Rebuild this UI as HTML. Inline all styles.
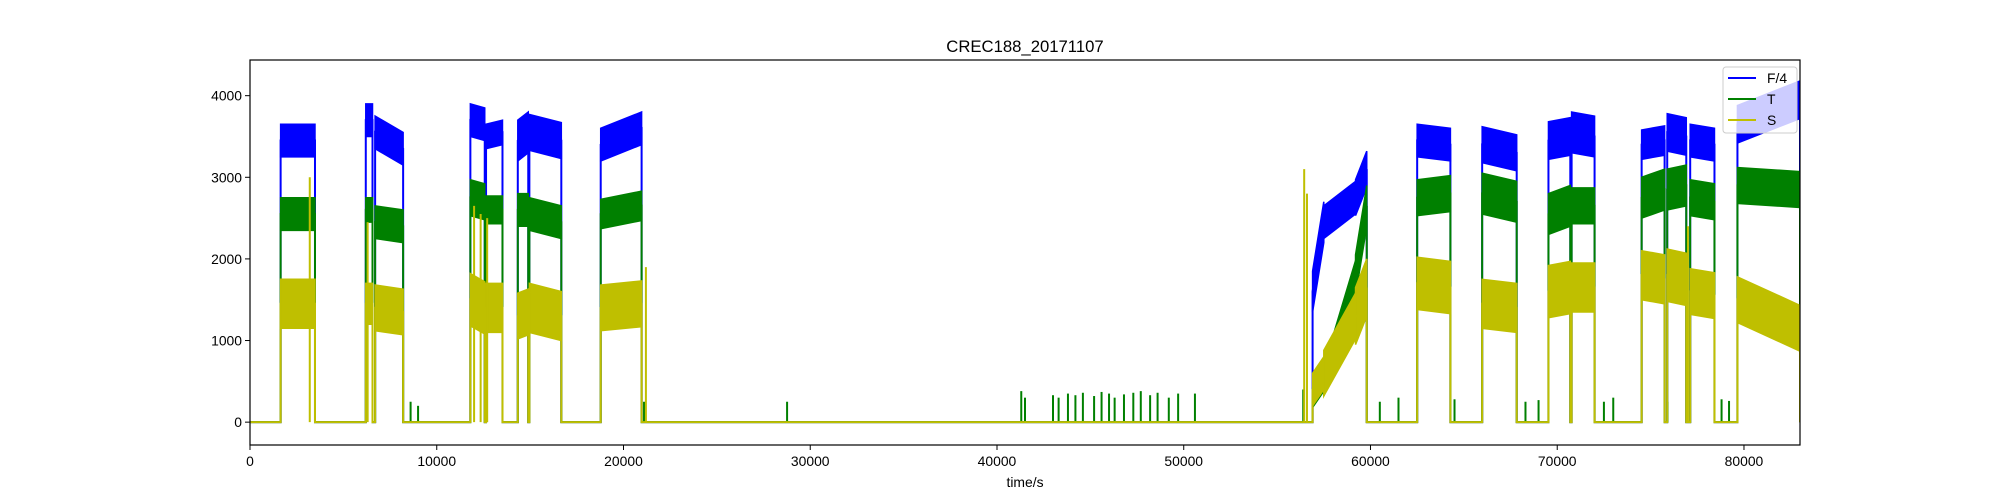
<!DOCTYPE html>
<html><head><meta charset="utf-8"><style>
html,body{margin:0;padding:0;background:#fff;}
svg{display:block;font-family:"Liberation Sans","DejaVu Sans",sans-serif;}
</style></head><body>
<svg id="chart" width="2000" height="500" viewBox="0 0 2000 500" xmlns="http://www.w3.org/2000/svg">
<rect x="0" y="0" width="2000" height="500" fill="#fff"/>
<text x="1025" y="52" text-anchor="middle" font-size="16.7" fill="#000">CREC188_20171107</text>
<g id="plot"></g>
<g id="axes"></g>
<text x="1025" y="487" text-anchor="middle" font-size="13.9" fill="#000">time/s</text>
<g>
<rect x="1723" y="67" width="74" height="66" rx="3" fill="#fff" fill-opacity="0.8" stroke="#ccc" stroke-width="1"/>
<line x1="1728" y1="78" x2="1756" y2="78" stroke="#0000ff" stroke-width="2"/>
<text x="1767" y="83" font-size="13.9">F/4</text>
<line x1="1728" y1="99" x2="1756" y2="99" stroke="#008000" stroke-width="2"/>
<text x="1767" y="104" font-size="13.9">T</text>
<line x1="1728" y1="120" x2="1756" y2="120" stroke="#bfbf00" stroke-width="2"/>
<text x="1767" y="125" font-size="13.9">S</text>
</g>
</svg>
<script>
// block boundaries (seconds)
const blockStart = [1640,6200,6700,11800,12640,14340,14960,18780,56900,57500,59200,62500,65980,69530,70770,74520,75890,77120,79650];
const blockEnd   = [3480,6560,8200,12570,13520,14900,16670,20970,57500,59200,59800,64280,67830,70700,72000,75750,76910,78420,83000];
// F/4 levels: mid at start, mid at end, half band width
const fStartMid = [3450,3700,3550,3700,3500,3450,3550,3400,1600,2450,2750,3450,3400,3450,3550,3400,3550,3450,3650];
const fEndMid   = [3450,3700,3350,3650,3550,3550,3450,3600,2450,2750,3100,3400,3300,3500,3500,3450,3500,3400,3950];
const fHalf     = [200,200,200,200,150,250,220,200,250,200,220,200,220,230,250,180,230,200,230];
// T levels
const tStartMid = [2550,2600,2450,2750,2600,2600,2550,2550,300,500,1800,2750,2800,2550,2650,2750,2850,2750,2900];
const tEndMid   = [2550,2600,2400,2700,2600,2600,2450,2650,500,1800,2650,2800,2700,2650,2650,2850,2900,2700,2850];
const tHalf     = [200,150,200,220,170,200,200,180,120,180,250,220,250,250,220,250,250,220,220];
// S levels
const sStartMid = [1450,1450,1400,1500,1400,1300,1400,1400,400,600,1300,1700,1450,1600,1650,1800,1800,1600,1500];
const sEndMid   = [1450,1450,1350,1400,1400,1350,1300,1450,600,1300,1650,1650,1400,1650,1650,1750,1750,1550,1150];
const sHalf     = [300,250,280,320,300,280,300,280,200,280,350,320,300,320,300,300,320,280,280];
// thin spikes
const tSpikeTimes  = [8600,9000,21100,28760,41300,41500,43000,43300,43800,44200,44600,45200,45600,46000,46300,46800,47300,47700,48200,48600,49200,49700,50600,56400,60500,61500,64500,68300,69000,72500,73000,75900,78800,79200];
const tSpikeValues = [250,200,250,250,380,300,330,300,350,330,360,320,370,350,300,340,360,380,330,360,300,350,350,400,250,300,280,250,270,250,300,250,280,260];
const sSpikeTimes  = [3200,6300,12000,12350,12700,21200,56450,56600,77000];
const sSpikeValues = [3000,2450,2650,2550,2500,1900,3100,2800,2400];
// axis ticks
const xTicks = [0,10000,20000,30000,40000,50000,60000,70000,80000];
const yTicks = [0,1000,2000,3000,4000];

const X0=250,X1=1800,Y0=60,Y1=445;
const xMin=0,xMax=83000,yMin=-280,yMax=4437;
const xs=t=>X0+(t-xMin)/(xMax-xMin)*(X1-X0);
const ys=v=>Y1-(v-yMin)/(yMax-yMin)*(Y1-Y0);
const NS='http://www.w3.org/2000/svg';
const plot=document.getElementById('plot');
const axes=document.getElementById('axes');
function mk(tag,attrs,parent){const e=document.createElementNS(NS,tag);for(const k in attrs)e.setAttribute(k,attrs[k]);parent.appendChild(e);return e;}

const clip=mk('clipPath',{id:'clip'},plot);
mk('rect',{x:X0,y:Y0,width:X1-X0,height:Y1-Y0},clip);
const g=mk('g',{'clip-path':'url(#clip)'},plot);



function drawSeries(name,color,sMid,eMid,half,spT,spV){
  const sg=mk('g',{},g);
  
  
  let d='M'+xs(xMin)+','+ys(0);
  for(let i=0;i<blockStart.length;i++){
    const contPrev=i>0&&blockEnd[i-1]===blockStart[i];
    if(!contPrev){d+=' L'+xs(blockStart[i])+','+ys(0)+' L'+xs(blockStart[i])+','+ys(sMid[i]);}
    d+=' L'+xs(blockEnd[i])+','+ys(eMid[i]);
    const contNext=i<blockStart.length-1&&blockStart[i+1]===blockEnd[i];
    if(!contNext){d+=' L'+xs(blockEnd[i])+','+ys(0);}
  }
  d+=' L'+xs(xMax)+','+ys(0);
  const p=mk('path',{d:d,fill:'none',stroke:color,'stroke-width':2},sg);
  
  
  for(let i=0;i<blockStart.length;i++){
    const a=xs(blockStart[i]),b=xs(blockEnd[i]);
    const pts=[[a,ys(sMid[i]-half[i])],[a,ys(sMid[i]+half[i])],[b,ys(eMid[i]+half[i])],[b,ys(eMid[i]-half[i])]];
    const poly=mk('polygon',{points:pts.map(q=>q.join(',')).join(' '),fill:color,stroke:color,'stroke-width':1.5},sg);
    
    
  }
  for(let i=0;i<spT.length;i++){
    const l=mk('line',{x1:xs(spT[i]),x2:xs(spT[i]),y1:ys(0),y2:ys(spV[i]),stroke:color,'stroke-width':2},sg);
    
    
  }
}
drawSeries('f4','#0000ff',fStartMid,fEndMid,fHalf,[],[]);
drawSeries('t','#008000',tStartMid,tEndMid,tHalf,tSpikeTimes,tSpikeValues);
drawSeries('s','#bfbf00',sStartMid,sEndMid,sHalf,sSpikeTimes,sSpikeValues);

const frame=mk('rect',{x:X0,y:Y0,width:X1-X0,height:Y1-Y0,fill:'none',stroke:'#000','stroke-width':1.2},axes);


xTicks.forEach(t=>{
  const l=mk('line',{x1:xs(t),x2:xs(t),y1:Y1,y2:Y1+5,stroke:'#000','stroke-width':1},axes);
  
  
  const tx=mk('text',{x:xs(t),y:Y1+21,'text-anchor':'middle','font-size':13.9},axes);
  
  
  tx.textContent=t;
});
yTicks.forEach(v=>{
  const l=mk('line',{x1:X0-5,x2:X0,y1:ys(v),y2:ys(v),stroke:'#000','stroke-width':1},axes);
  
  
  const tx=mk('text',{x:X0-8,y:ys(v)+5,'text-anchor':'end','font-size':13.9},axes);
  
  
  tx.textContent=v;
});
</script>
</body></html>
